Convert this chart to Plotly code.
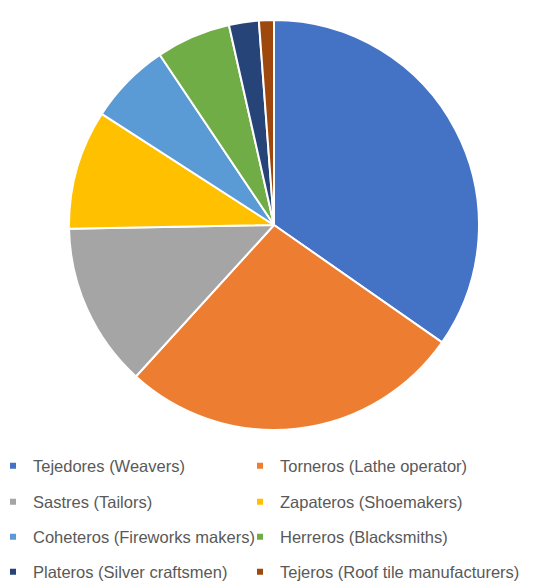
import plotly.graph_objects as go

categories = [
    "Tejedores (Weavers)", "Torneros (Lathe operator)", "Sastres (Tailors)",
    "Zapateros (Shoemakers)", "Coheteros (Fireworks makers)", "Herreros (Blacksmiths)",
    "Plateros (Silver craftsmen)", "Tejeros (Roof tile manufacturers)",
]
values = [59, 46, 22, 16, 11, 10, 4, 2]
colors = ["#4472C4", "#ED7D31", "#A5A5A5", "#FFC000", "#5B9BD5", "#70AD47", "#264478", "#9E480E"]

W, H = 550, 588
OFF = 8  # page body margin offset
fig = go.Figure()
fig.add_trace(go.Pie(
    labels=categories, values=values, sort=False, direction="clockwise", rotation=0,
    marker=dict(colors=colors, line=dict(color="white", width=2)),
    textinfo="none", hoverinfo="label+value+percent", showlegend=False,
    domain=dict(x=[(69 - OFF) / W, (479 - OFF) / W],
                y=[1 - (430 - OFF) / H, 1 - (20 - OFF) / H]),
))

row_y = [466, 502, 537, 572]
col_x = [0, 247]
legend_style = dict(
    orientation="h", itemwidth=30, indentation=-15,
    font=dict(family="Liberation Sans, Arial, sans-serif", size=16.5, color="#595959"),
    bgcolor="rgba(0,0,0,0)", xanchor="left", yanchor="middle",
    xref="container", yref="container",
    itemclick=False, itemdoubleclick=False,
)
layout_legends = {}
for i, (lab, col) in enumerate(zip(categories, colors)):
    name = "legend" if i == 0 else f"legend{i + 1}"
    fig.add_trace(go.Scatter(
        x=[None], y=[None], mode="markers", name=lab,
        marker=dict(symbol="square", size=6, color=col),
        legend=name, showlegend=True, hoverinfo="skip",
    ))
    layout_legends[name] = dict(legend_style, x=col_x[i % 2] / W,
                                y=1 - (row_y[i // 2] - OFF) / H)

fig.update_layout(
    width=W, height=H, margin=dict(l=0, r=0, t=0, b=0, autoexpand=False),
    paper_bgcolor="white", plot_bgcolor="white",
    xaxis=dict(visible=False), yaxis=dict(visible=False),
    **layout_legends,
)
fig.write_html("out.html")
